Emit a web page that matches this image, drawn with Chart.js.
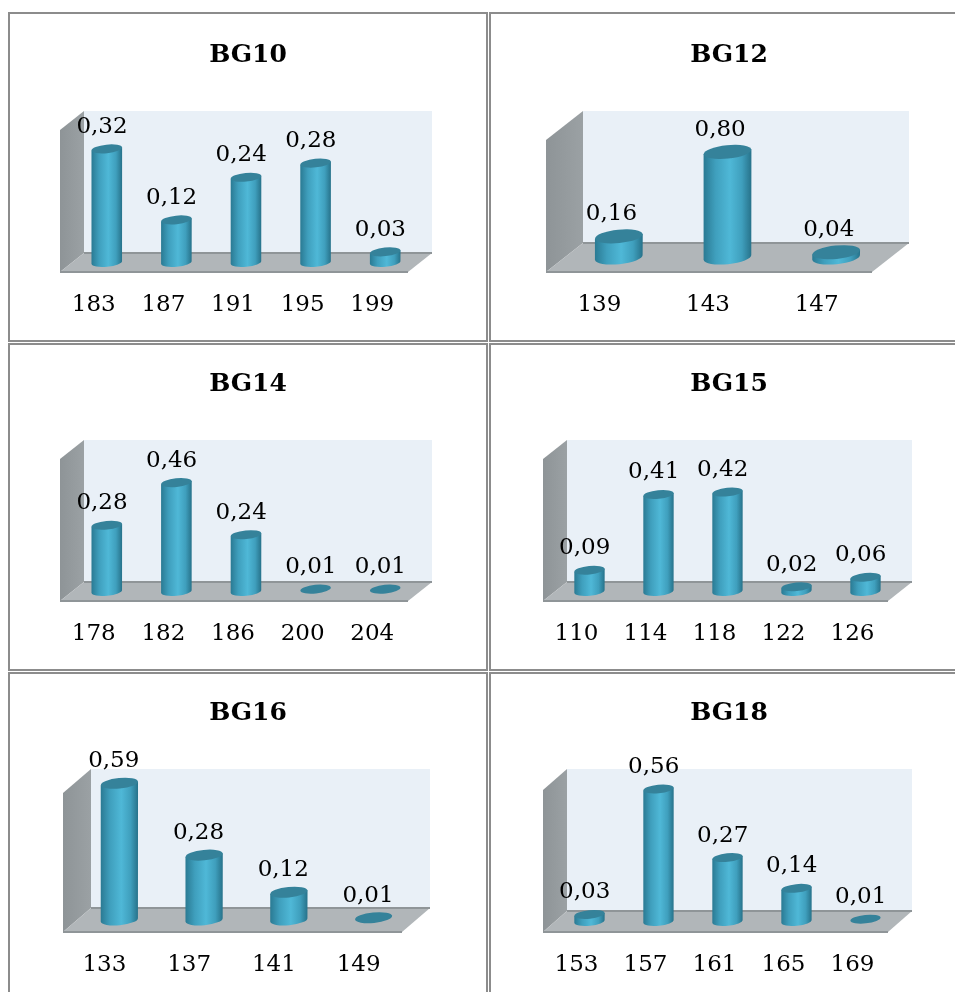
<!DOCTYPE html>
<html>
<head>
<meta charset="utf-8">
<style>
  html, body { margin: 0; padding: 0; background: #fff; overflow: hidden; }
  #page { position: relative; width: 955px; height: 992px; overflow: hidden; }
  .cell { position: absolute; box-sizing: border-box; border: 2px solid #8c8c8c; }
  canvas { position: absolute; }
</style>
<script src="https://cdn.jsdelivr.net/npm/chart.js@4"></script>
</head>
<body>
<div id="page"></div>
<script>
    const bg10Labels = ["183", "187", "191", "195", "199"];
    const bg10Values = [0.32, 0.12, 0.24, 0.28, 0.03];
    const bg12Labels = ["139", "143", "147"];
    const bg12Values = [0.16, 0.80, 0.04];
    const bg14Labels = ["178", "182", "186", "200", "204"];
    const bg14Values = [0.28, 0.46, 0.24, 0.01, 0.01];
    const bg15Labels = ["110", "114", "118", "122", "126"];
    const bg15Values = [0.09, 0.41, 0.42, 0.02, 0.06];
    const bg16Labels = ["133", "137", "141", "149"];
    const bg16Values = [0.59, 0.28, 0.12, 0.01];
    const bg18Labels = ["153", "157", "161", "165", "169"];
    const bg18Values = [0.03, 0.56, 0.27, 0.14, 0.01];

    Chart.defaults.animation = false;
    Chart.defaults.font.family = "'DejaVu Serif', serif";

    const FONT_SIZE = 23;
    const TITLE_SIZE = 25;

    // left, top, width, height of each cell, then the box: front left/right, wall top, floor back/front, depth
    const panels = [
        { title: "BG10", labels: bg10Labels, values: bg10Values, max: 0.4, cell: [8, 12, 480, 330], box: [60, 408, 111, 253, 272, 24] },
        { title: "BG12", labels: bg12Labels, values: bg12Values, max: 1.0, cell: [489, 12, 480, 330], box: [546, 872, 111, 243, 272, 37] },
        { title: "BG14", labels: bg14Labels, values: bg14Values, max: 0.6, cell: [8, 343, 480, 328], box: [60, 408, 440, 582, 601, 24] },
        { title: "BG15", labels: bg15Labels, values: bg15Values, max: 0.6, cell: [489, 343, 480, 328], box: [543, 888, 440, 582, 601, 24] },
        { title: "BG16", labels: bg16Labels, values: bg16Values, max: 0.6, cell: [8, 672, 480, 340], box: [63, 402, 769, 908, 932, 28] },
        { title: "BG18", labels: bg18Labels, values: bg18Values, max: 0.6, cell: [489, 672, 480, 340], box: [543, 888, 769, 911, 932, 24] }
    ];

    function drawPoly(ctx, pts, fill) {
        ctx.beginPath();
        pts.forEach((p, i) => i ? ctx.lineTo(p[0], p[1]) : ctx.moveTo(p[0], p[1]));
        ctx.closePath();
        ctx.fillStyle = fill;
        ctx.fill();
    }

    // back wall, side wall and floor, hung off the chart area
    const boxPlugin = {
        id: "box",
        beforeDatasetsDraw(chart, args, opts) {
            const { left, right, top, bottom } = chart.chartArea;
            const ctx = chart.ctx;
            const dx = opts.dx / 2, dy = opts.dy / 2;
            ctx.save();
            drawPoly(ctx, [[left + dx, top - dy], [right + dx, top - dy], [right + dx, bottom - dy], [left + dx, bottom - dy]], "#e9f0f7");
            let side = ctx.createLinearGradient(left - dx, 0, left + dx, 0);
            side.addColorStop(0, "#8e9497");
            side.addColorStop(1, "#9ba1a4");
            drawPoly(ctx, [[left - dx, top + dy], [left + dx, top - dy], [left + dx, bottom - dy], [left - dx, bottom + dy]], side);
            drawPoly(ctx, [[left - dx, bottom + dy], [left + dx, bottom - dy], [right + dx, bottom - dy], [right - dx, bottom + dy]], "#b1b6b9");
            ctx.strokeStyle = "#8f9598";
            ctx.lineWidth = 2;
            ctx.beginPath();
            ctx.moveTo(left + dx, bottom - dy);
            ctx.lineTo(right + dx, bottom - dy);
            ctx.moveTo(left - dx, bottom + dy);
            ctx.lineTo(right - dx, bottom + dy);
            ctx.stroke();
            ctx.restore();
        },
        beforeDatasetDraw(chart, args) {
            const ctx = chart.ctx;
            const tilt = -0.1;
            args.meta.data.forEach(bar => {
                const rx = bar.width / 2, ry = bar.width * 0.14;
                const off = rx * Math.sin(tilt);
                const x0 = bar.x - rx, x1 = bar.x + rx;
                let g = ctx.createLinearGradient(x0, 0, x1, 0);
                g.addColorStop(0, "#2a7a93");
                g.addColorStop(0.25, "#3f9fbd");
                g.addColorStop(0.55, "#4fb8d7");
                g.addColorStop(0.8, "#3f9fbd");
                g.addColorStop(1, "#27728a");
                ctx.save();
                if (bar.base - bar.y >= 3) {
                    ctx.beginPath();
                    ctx.moveTo(x0, bar.y - off);
                    ctx.lineTo(x0, bar.base - off);
                    ctx.ellipse(bar.x, bar.base, rx, ry, tilt, Math.PI, 0, true);
                    ctx.lineTo(x1, bar.y + off);
                    ctx.closePath();
                    ctx.fillStyle = g;
                    ctx.fill();
                }
                ctx.beginPath();
                ctx.ellipse(bar.x, bar.y, rx, ry, tilt, 0, Math.PI * 2);
                ctx.fillStyle = "#35829a";
                ctx.fill();
                ctx.restore();
            });
            return false;
        },
        afterDatasetsDraw(chart, args, opts) {
            const ctx = chart.ctx;
            ctx.save();
            ctx.fillStyle = "#000";
            ctx.font = FONT_SIZE + "px 'DejaVu Serif', serif";
            ctx.textAlign = "center";
            ctx.textBaseline = "middle";
            chart.getDatasetMeta(0).data.forEach((bar, i) => {
                const text = chart.data.datasets[0].data[i].toFixed(2).replace(".", ",");
                ctx.fillText(text, bar.x - opts.dx * 0.2, bar.y - 22);
            });
            ctx.restore();
        }
    };

    const page = document.getElementById("page");

    panels.forEach(p => {
        const [cx, cy, cw, ch] = p.cell;
        const [frontL, frontR, wallTop, floorBack, floorFront, dx] = p.box;
        const dy = floorFront - floorBack;
        const plotTop = wallTop + dy / 2 - cy;
        const plotBottom = floorBack + dy / 2 - cy;

        const cell = document.createElement("div");
        cell.className = "cell";
        cell.style.cssText = `left:${cx}px;top:${cy}px;width:${cw}px;height:${ch}px`;
        page.appendChild(cell);

        const canvas = document.createElement("canvas");
        canvas.width = cw;
        canvas.height = ch;
        canvas.style.left = cx + "px";
        canvas.style.top = cy + "px";
        page.appendChild(canvas);

        const titleBox = TITLE_SIZE * 1.2;
        const titleTop = wallTop - 56 - cy - titleBox / 2;

        // blank axes eat the side margins, so the title stays centred on the whole cell
        const blankAxis = {
            grid: { display: false, drawTicks: false },
            border: { display: false },
            ticks: { display: false }
        };

        new Chart(canvas, {
            type: "bar",
            data: {
                labels: p.labels,
                datasets: [{ data: p.values, backgroundColor: "#4fb8d7", barPercentage: 0.44, categoryPercentage: 1 }]
            },
            plugins: [boxPlugin],
            options: {
                responsive: false,
                plugins: {
                    legend: { display: false },
                    tooltip: { enabled: false },
                    title: {
                        display: true,
                        text: p.title,
                        color: "#000",
                        font: { size: TITLE_SIZE, weight: "bold" },
                        padding: { top: titleTop, bottom: plotTop - titleTop - titleBox }
                    },
                    box: { dx: dx, dy: dy }
                },
                scales: {
                    x: {
                        grid: { display: false, drawTicks: false },
                        border: { display: false },
                        ticks: {
                            color: "#000",
                            font: { size: FONT_SIZE },
                            maxRotation: 0,
                            autoSkip: false,
                            labelOffset: -dx / 2 - 1,
                            padding: floorFront - cy - plotBottom + 33 - FONT_SIZE * 0.6
                        },
                        afterFit: s => { s.height = ch - plotBottom; }
                    },
                    y: { ...blankAxis, min: 0, max: p.max, afterFit: s => { s.width = frontL + dx / 2 - cx; } },
                    side: { ...blankAxis, position: "right", afterFit: s => { s.width = cx + cw - frontR - dx / 2; } }
                }
            }
        });
    });
</script>
</body>
</html>
